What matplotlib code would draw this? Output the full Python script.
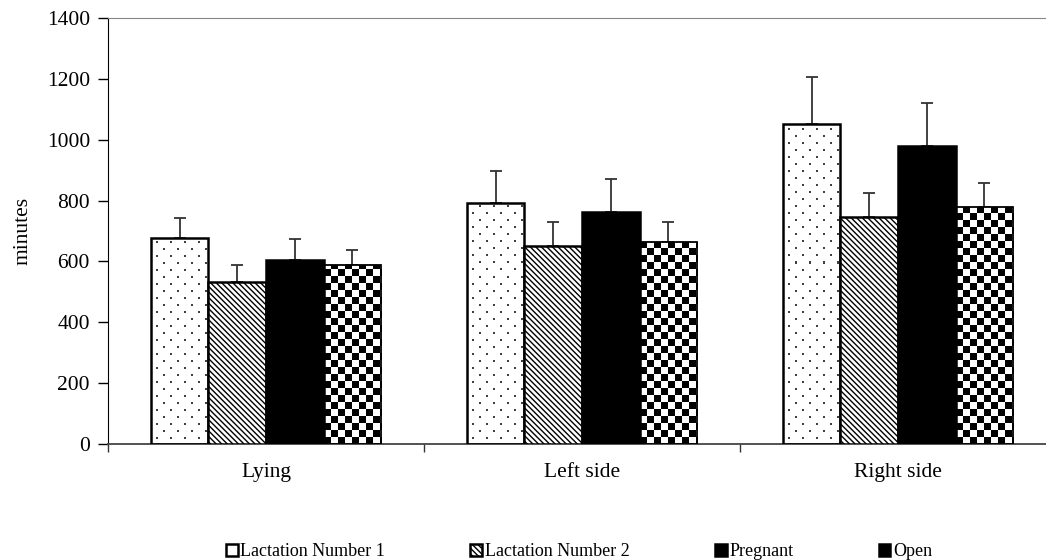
import numpy as np
import matplotlib
matplotlib.use("Agg")
import matplotlib.pyplot as plt
from matplotlib.patches import Patch

plt.rcParams['font.family'] = ['Liberation Serif', 'DejaVu Serif']
plt.rcParams['hatch.linewidth'] = 1.0

categories = ["Lying", "Left side", "Right side"]
series = ["Lactation Number 1", "Lactation Number 2", "Pregnant", "Open"]

# mean minutes per posture, one list per group
lact1 = [676, 793, 1052]
lact2 = [533, 651, 747]
pregnant = [605, 763, 979]
open_cows = [588, 663, 778]

# upper error (SE) for each bar
lact1_err = [68, 104, 155]
lact2_err = [55, 77, 77]
pregnant_err = [68, 108, 143]
open_err = [50, 65, 81]

values = [lact1, lact2, pregnant, open_cows]
errors = [lact1_err, lact2_err, pregnant_err, open_err]

fig = plt.figure(figsize=(10.46, 5.6), dpi=100)
ax = fig.add_axes([108 / 1046, 1 - 444 / 560, 948 / 1046, 426 / 560])

x = np.arange(len(categories)) + 0.5
width = 0.182
offsets = np.array([-1.5, -0.5, 0.5, 1.5]) * width

styles = [
    dict(facecolor="white", hatch=None),
    dict(facecolor="white", hatch="\\" * 6),
    dict(facecolor="black", hatch=None),
    dict(facecolor="white", hatch=None),
]

ax.set_xlim(0, 3)
ax.set_ylim(0, 1400)

# data units per screen pixel
px_x = 3 / 948
px_y = 1400 / 426

bars_all = []
for i, (vals, errs) in enumerate(zip(values, errors)):
    lw = 1.3 if i == 3 else 1.8
    bars = ax.bar(x + offsets[i], vals, width, edgecolor="black", linewidth=lw,
                  zorder=3, **styles[i])
    bars_all.append(bars)
    ax.errorbar(x + offsets[i], vals, yerr=[np.zeros(len(vals)), errs], fmt="none",
                ecolor="#333333", elinewidth=1.3, capsize=4, capthick=1.3, zorder=2)


def texture(b, board):
    x0, y0 = b.get_x(), b.get_y()
    ny, nx = board.shape
    img = ax.imshow(board, cmap="gray", vmin=0, vmax=1, interpolation="nearest",
                    aspect="auto", origin="upper",
                    extent=[x0, x0 + nx * px_x, y0 + ny * px_y, y0], zorder=2.5)
    img.set_clip_path(b)
    b.set_facecolor("none")


# sparse staggered dots for "Lactation Number 1"
for b in bars_all[0]:
    nx = int(np.ceil(b.get_width() / px_x)) + 1
    ny = int(np.ceil(b.get_height() / px_y)) + 1
    board = np.ones((ny, nx))
    for r, yy in enumerate(range(5, ny, 7)):
        start = 5 + (r % 2) * 7
        for xx in range(start, nx - 1, 14):
            board[yy:yy + 2, xx:xx + 2] = 0.25
    texture(b, board)

# checkerboard for "Open", cells about 7 px
for b in bars_all[3]:
    nx = int(np.ceil(b.get_width() / px_x)) + 1
    ny = int(np.ceil(b.get_height() / px_y)) + 1
    rows = (np.arange(ny) // 7)[:, None]
    cols = (np.arange(nx) // 7)[None, :]
    board = ((rows + cols) % 2).astype(float)
    texture(b, board)

ax.set_xlim(0, 3)
ax.set_ylim(0, 1400)
ax.set_aspect("auto")

ax.set_yticks(np.arange(0, 1401, 200))
ax.tick_params(axis="y", direction="out", length=7, width=1, labelsize=15.5, pad=6)
ax.set_xticks([0, 1, 2, 3])
ax.set_xticklabels([])
ax.set_xticks(x, minor=True)
ax.set_xticklabels(categories, minor=True)
ax.tick_params(axis="x", which="major", direction="out", length=6, width=1, color="#333333")
ax.tick_params(axis="x", which="minor", length=0, labelsize=15.5, pad=13.5)

ax.set_ylabel("minutes", fontsize=15.5, labelpad=10)

ax.spines["left"].set_color("black")
ax.spines["bottom"].set_color("#444444")
ax.spines["bottom"].set_linewidth(1.3)
ax.spines["top"].set_color("#888888")
ax.spines["right"].set_visible(False)

handles = [
    Patch(facecolor="white", edgecolor="black", linewidth=1.8),
    Patch(facecolor="white", edgecolor="black", hatch="\\" * 6, linewidth=1.8),
    Patch(facecolor="black", edgecolor="black", linewidth=1.8),
    Patch(facecolor="black", edgecolor="black", linewidth=1.8),
]
fig.legend(handles, series, loc="center", bbox_to_anchor=(579 / 1046, 1 - 552 / 560),
           ncol=4, frameon=False, fontsize=13, handlelength=0.65, handleheight=0.65,
           handletextpad=0.15, columnspacing=4.72)

fig.savefig("out.png", dpi=100)
